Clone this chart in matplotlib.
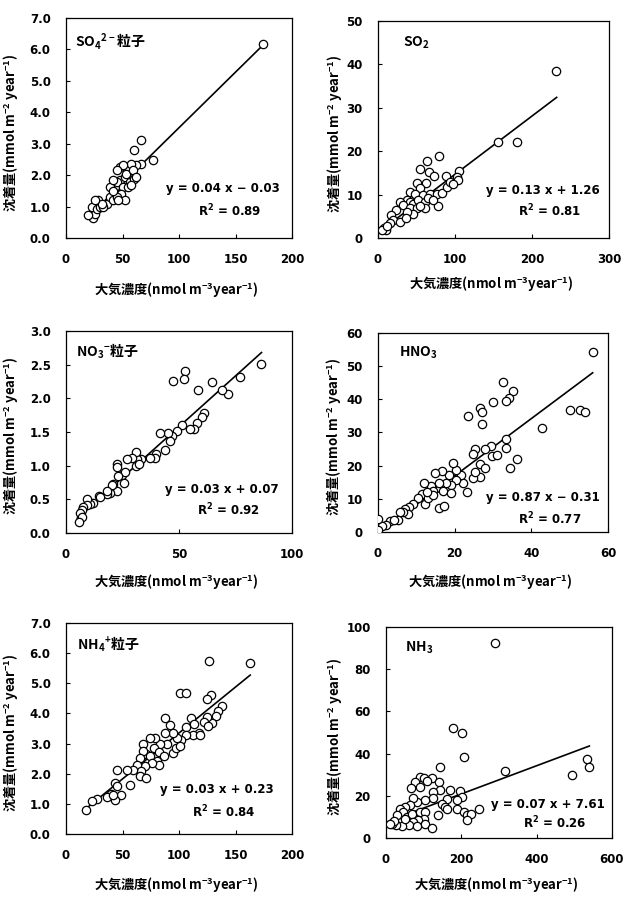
import matplotlib
matplotlib.use("Agg")
import matplotlib.pyplot as plt
from matplotlib.ticker import MultipleLocator, FormatStrFormatter

plt.rcParams['mathtext.default'] = 'regular'
JP = 'Noto Sans CJK JP'
NUM = 'DejaVu Sans'

# SO4 2- particles
so4_x = [174, 66.8, 60.3, 77, 66.8, 62, 21.2, 24, 25.6, 22.6, 27, 28.5, 30, 35.9, 38.8, 41.8,
         43.2, 46.2, 47.6, 44.7, 50.6, 52, 55, 53.5, 57.9, 59.4, 56.5, 60.3, 62, 55, 49, 44.7,
         38.8, 41.8, 47.6, 50.6, 32.9, 31.5, 19.7, 25.6, 44.7, 52, 46, 57.9, 41.8]
so4_y = [6.18, 3.11, 2.79, 2.47, 2.36, 2.31, 0.72, 0.62, 0.77, 0.99, 0.93, 1.2, 0.99, 1.09, 1.3, 1.2,
         1.62, 1.41, 1.83, 1.78, 1.62, 1.94, 2.26, 2.05, 2.36, 2.15, 1.78, 1.89, 1.94, 1.62, 1.41, 1.3,
         1.62, 1.83, 2.26, 2.31, 0.99, 1.09, 0.72, 1.22, 2.15, 1.2, 1.2, 1.67, 1.51]

# SO2
so2_x = [231, 156, 181, 79, 55, 63, 66.5, 72.6, 105, 102, 88, 78, 62, 51, 54, 41, 48, 59, 67.5,
         76, 82.6, 89, 93, 104, 98, 37, 41, 45.6, 52, 61, 65, 28, 32.6, 41, 50, 61, 45, 37, 24,
         17, 20, 28, 15, 7.4, 10, 5.7, 11.7, 36, 54, 72]
so2_y = [38.5, 22.1, 22.1, 18.9, 16, 17.7, 15.2, 14.3, 15.4, 14, 14.3, 7.3, 12.7, 12.7, 11.6, 10.6,
         10.2, 9.8, 10.2, 10.2, 10.4, 11.8, 12.9, 13.3, 12.5, 8.8, 8.3, 7.9, 8.7, 8.3, 9.1, 8.3,
         7.5, 6.8, 6.8, 6.8, 5.6, 6, 6.4, 5.2, 4.2, 3.7, 3.5, 2.3, 1.8, 1.9, 2.7, 4.5, 7.3, 8.7]

# NO3- particles
no3_x = [86.4, 76.9, 71.7, 69.2, 64.8, 58.6, 52.7, 52.3, 47.4, 61, 60.1, 57.8, 56.7, 54.8, 51.5,
         49.3, 46.7, 45.2, 46.2, 44, 41.5, 40, 39.3, 37.1, 33.4, 31.2, 30.9, 29, 26.8, 30.9, 32.4,
         22.4, 22.4, 24.6, 26, 25.6, 23.1, 22.4, 20.9, 19.4, 18, 14.7, 12.1, 10.6, 9.4, 9.1, 7.7,
         6.9, 6.2, 6.9, 5.7, 15, 20.3, 18]
no3_y = [2.51, 2.32, 2.07, 2.13, 2.24, 2.13, 2.40, 2.29, 2.25, 1.78, 1.72, 1.63, 1.55, 1.55, 1.61,
         1.52, 1.44, 1.48, 1.36, 1.23, 1.48, 1.17, 1.12, 1.12, 1.10, 1.10, 1.20, 1.12, 1.10, 0.995, 1.03,
         1.03, 0.98, 0.86, 0.91, 0.74, 0.85, 0.63, 0.73, 0.60, 0.58, 0.55, 0.45, 0.43, 0.50, 0.41, 0.38,
         0.34, 0.29, 0.24, 0.16, 0.54, 0.71, 0.63]

# HNO3
hno3_x = [56, 32.5, 35.1, 34.2, 33.4, 29.9, 26.5, 27.2, 27.1, 23.4, 42.8, 50, 52.8, 53.9, 33.4,
          33.4, 34.4, 36.3, 29.5, 29.7, 31, 27.8, 25.4, 24.7, 26.5, 27.9, 26.6, 24.9, 25.3, 23.2,
          22.2, 21.6, 20.4, 19.6, 20.4, 19.1, 18.5, 16.6, 14.8, 17.8, 16.2, 17, 19.1, 15.9, 17.1,
          16, 13.8, 14.3, 12.1, 11.6, 12.2, 10.5, 9.2, 8.2, 7.1, 7.9, 6.6, 5.8, 5.2, 3.2, 2.2, 1,
          0, 0, 4.1, 13.1, 14.4, 12.9]
hno3_y = [54.2, 45.1, 42.6, 40.3, 39.5, 39.3, 37.3, 36.2, 32.7, 34.9, 31.4, 36.9, 36.9, 36.2, 28,
          25.2, 19.2, 21.9, 26, 22.8, 23.2, 25, 25, 23.5, 20.6, 19.2, 16.5, 16.2, 18, 12.2,
          14.8, 17.1, 18.6, 20.8, 15.8, 14.3, 17.1, 18.3, 17.8, 14.8, 13.3, 12.3, 11.7, 7.2, 7.7,
          14.8, 13.8, 12.3, 14.8, 11.6, 8.5, 10.1, 8.5, 7.5, 7, 5.5, 6, 6, 3.5, 3.3, 2, 1.7,
          4, 0.5, 3.5, 10.1, 11.1, 12.1]

# NH4+ particles
nh4_x = [163, 126.7, 100.7, 106.6, 128, 125, 138, 134.6, 133, 129, 125, 122, 126, 111, 117.5, 112.5,
         106.6, 106.6, 102, 97.8, 95, 92, 88, 88, 89, 95, 97.2, 100.7, 83, 78.6, 74, 68, 77.5, 82,
         86.6, 80.7, 82.5, 71, 68, 65.4, 74.2, 75.7, 70, 62.5, 66.8, 65.4, 71, 59.5, 53.6, 44.8,
         56.6, 43.3, 44.8, 49, 43.3, 39.8, 36, 27, 22.7, 17.7, 41.8, 119, 113]
nh4_y = [5.67, 5.75, 4.68, 4.68, 4.62, 4.48, 4.25, 4.07, 3.9, 3.67, 3.87, 3.7, 3.59, 3.86, 3.36, 3.29,
         3.56, 3.29, 3.12, 3.18, 3.35, 3.6, 3.85, 3.35, 3.0, 2.7, 2.84, 2.92, 3.0, 3.18, 3.18, 3.0,
         2.84, 2.72, 2.6, 2.43, 2.28, 2.65, 2.74, 2.52, 2.57, 2.35, 2.26, 2.3, 2.08, 1.91, 1.86,
         2.13, 2.11, 2.11, 1.64, 1.69, 1.58, 1.3, 1.14, 1.32, 1.24, 1.17, 1.08, 0.81, 1.3, 3.29, 3.65]

# NH3
nh3_x = [290, 178, 203, 206, 316, 493, 535, 540, 144, 89, 101, 122, 110, 77, 67, 91, 140, 144, 124,
         171, 196, 202, 188, 162, 148, 158, 126, 104, 82, 73, 64, 51, 36, 46, 55, 68, 91, 104,
         100, 86, 73, 60, 42, 27, 15, 51, 30, 82, 104, 122, 137, 188, 208, 215, 227, 215, 246,
         162, 20, 11]
nh3_y = [92.6, 52.1, 49.9, 38.4, 31.8, 29.7, 37.3, 33.6, 33.8, 28.9, 28.4, 28.4, 26.9, 26.5, 23.7,
         24.2, 26.5, 22.6, 21.8, 22.6, 22.1, 19.4, 17.9, 18.6, 16.3, 14.7, 19, 17.9, 17.1, 19,
         15.5, 14.7, 13.6, 12.3, 10, 11.5, 12.3, 12.3, 9.2, 8.4, 7.6, 6, 5.7, 6, 6.5, 9.2, 10.7,
         5.5, 6.8, 4.7, 10.7, 13.9, 12.3, 10.7, 11.5, 8.7, 13.9, 13.9, 7.9, 6.8]

# regression lines as drawn (ends)
fit_x = [[20, 175], [5, 232], [5, 86.5], [0.5, 56], [17, 163], [10, 540]]
fit_y = [[0.68, 6.16], [1.9, 32.4], [0.22, 2.68], [0.1, 48], [0.82, 5.27], [8.2, 43.6]]

titles = ['SO$_4$$^{2-}$粒子', 'SO$_2$', 'NO$_3$$^{-}$粒子', 'HNO$_3$', 'NH$_4$$^{+}$粒子', 'NH$_3$']
eqs = ['y = 0.04 x − 0.03', 'y = 0.13 x + 1.26', 'y = 0.03 x + 0.07',
       'y = 0.87 x − 0.31', 'y = 0.03 x + 0.23', 'y = 0.07 x + 7.61']
r2s = ['0.89', '0.81', '0.92', '0.77', '0.84', '0.26']
xmax = [200, 300, 100, 60, 200, 600]
xstep = [50, 100, 50, 20, 50, 200]
ymax = [7.0, 50, 3.0, 60, 7.0, 100]
ystep = [1.0, 10, 0.5, 10, 1.0, 20]
yfmt = ['%.1f', '%d', '%.1f', '%d', '%.1f', '%d']
xs = [so4_x, so2_x, no3_x, hno3_x, nh4_x, nh3_x]
ys = [so4_y, so2_y, no3_y, hno3_y, nh4_y, nh3_y]

# layout (figure fractions) and text spots (axes fractions)
rects = [[0.1053, 0.735, 0.3604, 0.245], [0.6029, 0.735, 0.3684, 0.2416],
         [0.1053, 0.4065, 0.3604, 0.2249], [0.6029, 0.4076, 0.3668, 0.2216],
         [0.1053, 0.0713, 0.3604, 0.235], [0.6156, 0.0668, 0.3604, 0.235]]
title_pos = [(0.04, 0.89), (0.11, 0.9), (0.045, 0.9), (0.09, 0.9), (0.048, 0.9), (0.085, 0.9)]
eq_pos = [(0.695, 0.227, 0.123), (0.714, 0.22, 0.124), (0.69, 0.213, 0.114),
          (0.717, 0.171, 0.065), (0.668, 0.21, 0.104), (0.717, 0.161, 0.071)]
ylab_x = [-0.199, -0.143, -0.199, -0.148, -0.199, -0.181]
xlab_y = [-0.191, -0.17, -0.193, -0.201, -0.194, -0.178]

fig = plt.figure(figsize=(6.27, 8.98), dpi=100)

for i in range(6):
    ax = fig.add_axes(rects[i])
    ax.scatter(xs[i], ys[i], s=36, facecolors='white', edgecolors='black', linewidths=0.9, zorder=3)
    ax.plot(fit_x[i], fit_y[i], color='black', lw=1.2, zorder=2)
    ax.set_xlim(0, xmax[i])
    ax.set_ylim(0, ymax[i])
    ax.xaxis.set_major_locator(MultipleLocator(xstep[i]))
    ax.yaxis.set_major_locator(MultipleLocator(ystep[i]))
    ax.yaxis.set_major_formatter(FormatStrFormatter(yfmt[i]))
    ax.tick_params(direction='in', length=3, width=0.8, top=False, right=False)
    ax.tick_params(axis='x', pad=11)
    ax.tick_params(axis='y', pad=11)
    for lab in ax.get_xticklabels() + ax.get_yticklabels():
        lab.set_fontfamily(NUM)
        lab.set_fontweight('bold')
        lab.set_fontsize(8.5)
    for sp in ax.spines.values():
        sp.set_linewidth(0.9)

    ax.set_xlabel('大気濃度(nmol m$^{-3}$year$^{-1}$)', family=JP, weight='bold', fontsize=9.5)
    ax.set_ylabel('沈着量(mmol m$^{-2}$ year$^{-1}$)', family=JP, weight='bold', fontsize=9.5)
    ax.xaxis.set_label_coords(0.49, xlab_y[i])
    ax.yaxis.set_label_coords(ylab_x[i], 0.48)

    ax.text(title_pos[i][0], title_pos[i][1], titles[i], transform=ax.transAxes,
            family=JP, weight='bold', fontsize=10, va='center', ha='left')
    ex, ey, ry = eq_pos[i]
    ax.text(ex, ey, eqs[i], transform=ax.transAxes, family=NUM, weight='bold',
            fontsize=8.5, ha='center', va='center')
    ax.text(ex + 0.03, ry, 'R$^2$ = ' + r2s[i], transform=ax.transAxes, family=NUM,
            weight='bold', fontsize=8.5, ha='center', va='center')

plt.savefig('out.png', dpi=100)
